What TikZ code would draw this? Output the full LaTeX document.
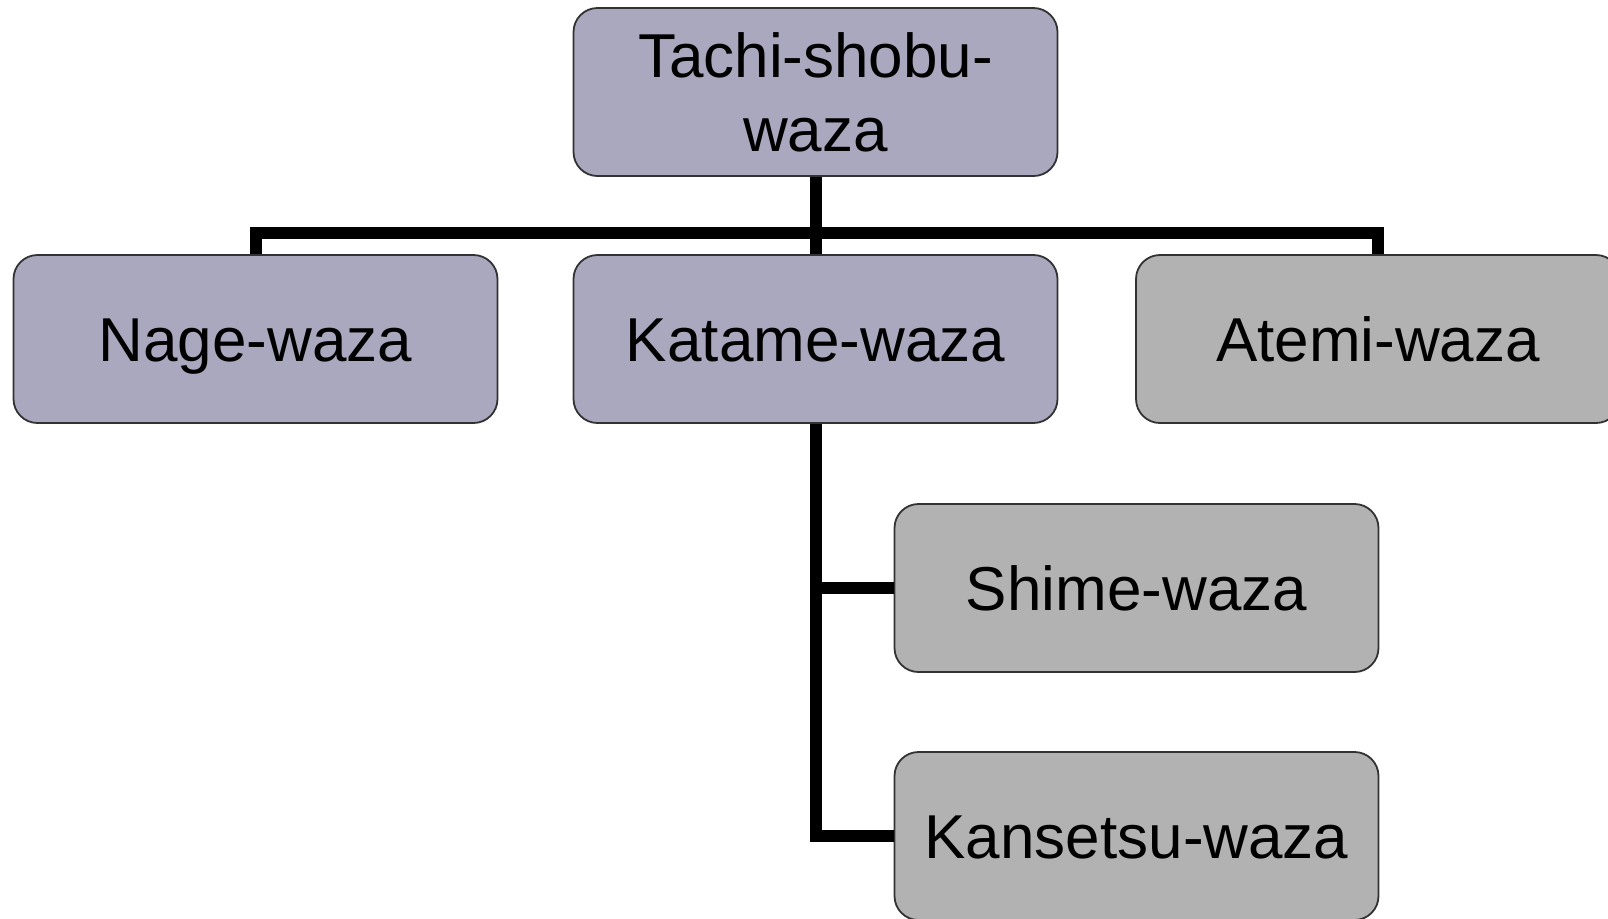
\documentclass[tikz,border=0pt]{standalone}
\usepackage{fontspec}
\setmainfont{Liberation Sans}
\usetikzlibrary{positioning}
\definecolor{lilac}{RGB}{170,168,190}
\definecolor{greybox}{RGB}{178,178,178}
\definecolor{rim}{RGB}{50,50,50}

\begin{document}
\begin{tikzpicture}[x=0.5pt,y=-0.5pt,
  wazabox/.style={rectangle, rounded corners=12pt, draw=rim, line width=0.9pt,
    minimum width=242pt, minimum height=84pt, align=center,
    font=\fontsize{31}{37}\selectfont},
  oneline/.style={wazabox, text height=26pt, text depth=4pt},
  link/.style={line width=6pt, black}]
\useasboundingbox (0,0) rectangle (1608,918);

\node[wazabox, fill=lilac](tachi) at (815.5,92) {Tachi-shobu-\\waza};
\node[oneline, fill=lilac](nage) at (255.5,339) {Nage-waza};
\node[oneline, fill=lilac](katame) at (815.5,339) {Katame-waza};
\node[oneline, fill=greybox](atemi) at (1378,339) {Atemi-waza};
\node[oneline, fill=greybox](shime) at (1136.5,588) {Shime-waza};
\node[oneline, fill=greybox](kansetsu) at (1136.5,836) {Kansetsu-waza};

\coordinate (bar) at (815.5,233);

\draw[link] (tachi.south) -- (bar) -| (nage.north);
\draw[link] (bar) -| (atemi.north);
\draw[link] (bar) -- (katame.north);

\draw[link] (katame.south) |- (shime.west);
\draw[link] (katame.south) |- (kansetsu.west);
\end{tikzpicture}
\end{document}
